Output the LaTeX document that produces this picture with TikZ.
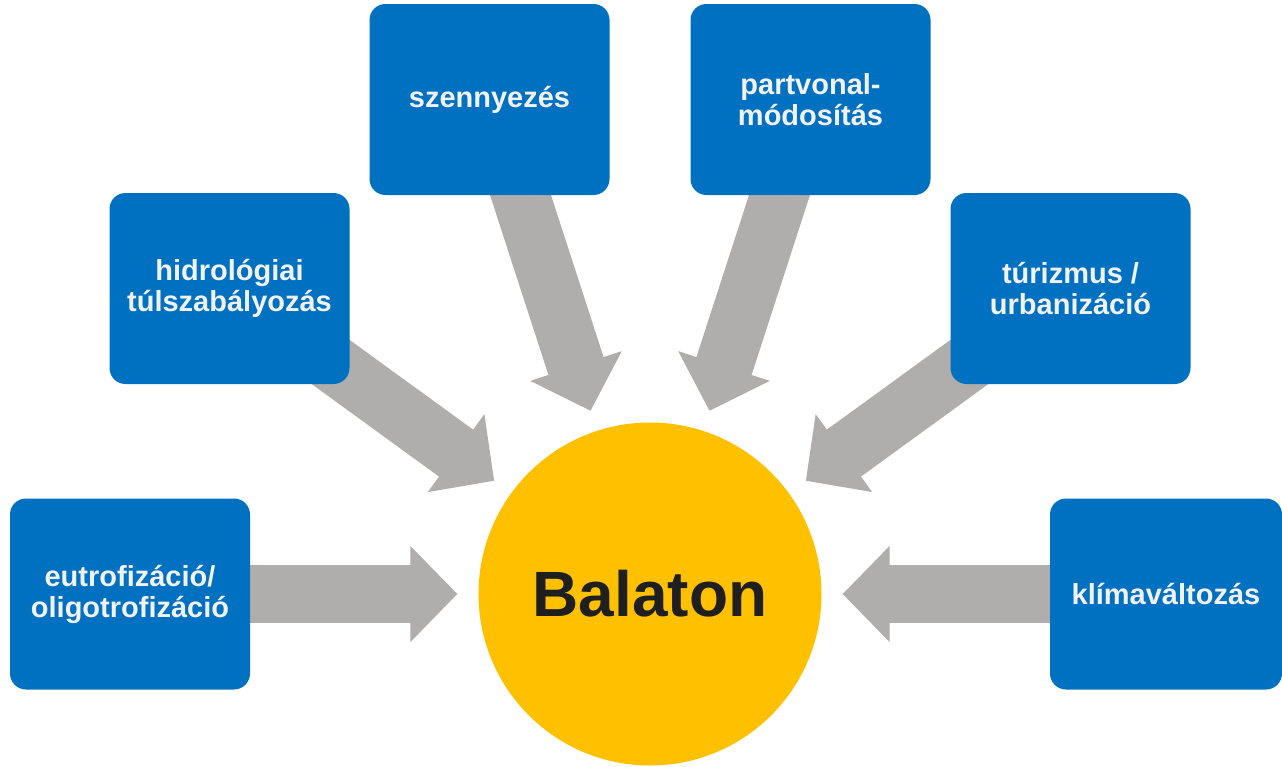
\documentclass[tikz,border=0pt]{standalone}
\usepackage{fontspec}
\setmainfont{Liberation Sans}
\usepackage{tikz}
\usetikzlibrary{arrows.meta,backgrounds}
\definecolor{boxblue}{RGB}{0,112,192}
\definecolor{lakeyellow}{RGB}{255,192,0}
\definecolor{arrowgrey}{RGB}{175,174,173}
\definecolor{boxtext}{RGB}{242,242,242}
\tikzset{box/.style={fill=boxblue, rounded corners=16pt, minimum width=240pt,
  minimum height=191pt, align=center, text=boxtext,
  font=\fontsize{29}{31}\selectfont\bfseries}}
\tikzset{bigarrow/.style={draw=arrowgrey, line width=58pt,
  -{Triangle[length=47pt, width=96pt, line width=1.5pt]}, shorten >=21pt}}

\begin{document}
\begin{tikzpicture}[x=1pt, y=-1pt]
\useasboundingbox (0,0) rectangle (1282,766);

\node[circle, fill=lakeyellow, minimum size=343pt, inner sep=0pt,
  text={rgb,255:red,31;green,31;blue,31}, font=\fontsize{64}{64}\selectfont\bfseries]
  (bal) at (650,594) {Balaton};

\node[box] (eut) at (130,594) {eutrofizáció/\\oligotrofizáció};
\node[box] (hyd) at (229.5,288.5) {hidrológiai\\túlszabályozás};
\node[box] (sze) at (489.5,99.5) {szennyezés};
\node[box] (par) at (810.5,99.5) {partvonal-\\módosítás};
\node[box] (tur) at (1070.5,288.5) {túrizmus /\\urbanizáció};
\node[box, minimum width=232pt] (kli) at (1166,594) {klímaváltozás};

\begin{scope}[on background layer]
\draw[bigarrow] (eut.center) -- (bal);
\draw[bigarrow] (hyd.center) -- (bal);
\draw[bigarrow] (sze.center) -- (bal);
\draw[bigarrow] (par.center) -- (bal);
\draw[bigarrow] (tur.center) -- (bal);
\draw[bigarrow] (kli.center) -- (bal);
\end{scope}
\end{tikzpicture}
\end{document}
